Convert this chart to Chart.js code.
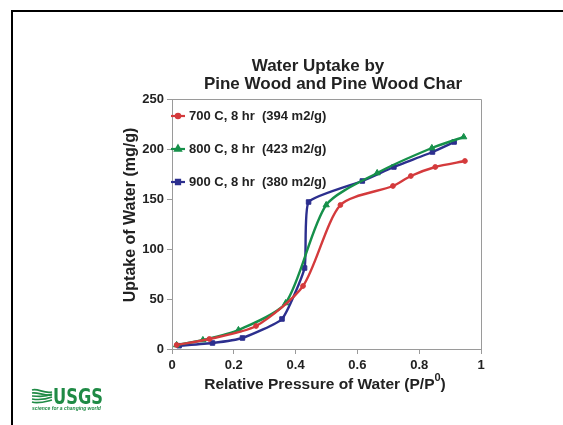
<!DOCTYPE html>
<html>
<head>
<meta charset="utf-8">
<script src="https://cdn.jsdelivr.net/npm/chart.js@4/dist/chart.umd.min.js"></script>
<style>
  html, body { margin: 0; padding: 0; background: #fff; }
  #wrap { position: relative; width: 563px; height: 425px; }
</style>
</head>
<body>
<div id="wrap"><canvas id="c" width="563" height="425"></canvas></div>
<script>
// ---- data ----
const titleLines = ["Water Uptake by", "Pine Wood and Pine Wood Char"];
const xAxisTitle = "Relative Pressure of Water (P/P";
const yAxisTitle = "Uptake of Water (mg/g)";
const xTicks = [0, 0.2, 0.4, 0.6, 0.8, 1];
const yTicks = [0, 50, 100, 150, 200, 250];

const s700Label = "700 C, 8 hr  (394 m2/g)";
const s700X = [0.015, 0.121, 0.272, 0.424, 0.545, 0.715, 0.773, 0.852, 0.948];
const s700Y = [4, 10, 23, 63, 144, 163, 173, 182, 188];

const s800Label = "800 C, 8 hr  (423 m2/g)";
const s800X = [0.015, 0.100, 0.215, 0.368, 0.499, 0.664, 0.841, 0.944];
const s800Y = [4, 9, 19, 46, 144, 176, 201, 212];

const s900Label = "900 C, 8 hr  (380 m2/g)";
const s900X = [0.023, 0.131, 0.228, 0.356, 0.429, 0.442, 0.616, 0.718, 0.843, 0.913];
const s900Y = [3.3, 6, 11, 30, 81, 147, 168, 182, 197, 207];

const pts = (xs, ys) => xs.map((x, i) => ({ x: x, y: ys[i] }));

const RED = '#d43a3c', GREEN = '#16904a', BLUE = '#2c2f8e';
const FONT = '"Liberation Sans", Arial, Helvetica, sans-serif';

const series = [
  { label: s700Label, data: pts(s700X, s700Y), color: RED, style: 'circle', r: 2.4, t: 0.25 },
  { label: s800Label, data: pts(s800X, s800Y), color: GREEN, style: 'triangle', r: 3.6, t: 0.25 },
  { label: s900Label, data: pts(s900X, s900Y), color: BLUE, style: 'rect', r: 3.2, t: 0.15 },
];

const decor = {
  id: 'decor',
  beforeDatasetsDraw(chart) {
    const ctx = chart.ctx, a = chart.chartArea;
    ctx.save();
    ctx.strokeStyle = '#9a9a9a';
    ctx.lineWidth = 1;
    ctx.beginPath();
    ctx.moveTo(a.left, a.top + 0.5);
    ctx.lineTo(a.right + 0.5, a.top + 0.5);
    ctx.lineTo(a.right + 0.5, a.bottom);
    ctx.stroke();
    ctx.restore();
  },
  afterDraw(chart) {
    const ctx = chart.ctx;
    ctx.save();
    // outer frame
    ctx.strokeStyle = '#000';
    ctx.lineWidth = 2;
    ctx.beginPath();
    ctx.moveTo(12, 425);
    ctx.lineTo(12, 11);
    ctx.lineTo(563, 11);
    ctx.stroke();

    // title
    ctx.fillStyle = '#222';
    ctx.font = 'bold 17px ' + FONT;
    ctx.textAlign = 'center';
    ctx.textBaseline = 'alphabetic';
    ctx.fillText(titleLines[0], 318, 71);
    ctx.fillText(titleLines[1], 333, 89);

    // y axis title
    ctx.save();
    ctx.translate(131, 215);
    ctx.rotate(-Math.PI / 2);
    ctx.font = 'bold 16px ' + FONT;
    ctx.textAlign = 'center';
    ctx.textBaseline = 'middle';
    ctx.fillText(yAxisTitle, 0, 0);
    ctx.restore();

    // x axis title with superscript
    const XF = 'bold 15.5px ' + FONT;
    ctx.font = XF;
    const w1 = ctx.measureText(xAxisTitle).width;
    ctx.font = 'bold 11px ' + FONT;
    const w2 = ctx.measureText('0').width;
    ctx.font = XF;
    const w3 = ctx.measureText(')').width;
    const total = w1 + w2 + w3;
    let x0 = 325 - total / 2;
    ctx.textAlign = 'left';
    ctx.fillText(xAxisTitle, x0, 389);
    ctx.font = 'bold 11px ' + FONT;
    ctx.fillText('0', x0 + w1, 381);
    ctx.font = XF;
    ctx.fillText(')', x0 + w1 + w2, 389);

    // legend
    const ly = [116, 149, 182];
    series.forEach((s, i) => {
      const y = ly[i];
      ctx.strokeStyle = s.color;
      ctx.fillStyle = s.color;
      ctx.lineWidth = 2.2;
      ctx.beginPath();
      ctx.moveTo(171, y);
      ctx.lineTo(185, y);
      ctx.stroke();
      Chart.helpers.drawPoint(ctx, { pointStyle: s.style, radius: s.r * 0.9, borderWidth: 1 }, 178, y);
      ctx.fillStyle = '#222';
      ctx.font = 'bold 13px ' + FONT;
      ctx.textBaseline = 'middle';
      ctx.fillText(s.label, 189, y);
    });

    // USGS logo
    const G = '#1f8a45';
    ctx.strokeStyle = G;
    ctx.fillStyle = G;
    ctx.lineWidth = 1.6;
    for (let k = 0; k < 5; k++) {
      const yy = 390 + k * 3;
      ctx.beginPath();
      ctx.moveTo(32, yy);
      ctx.bezierCurveTo(38, yy - 2 + k, 44, yy + 4 - k, 52, yy + (k < 2 ? 2 : -2));
      ctx.stroke();
    }
    ctx.font = 'bold 21px "Liberation Sans Narrow", "DejaVu Sans Condensed", ' + FONT;
    ctx.textBaseline = 'alphabetic';
    ctx.save();
    ctx.translate(53, 404);
    ctx.scale(0.86, 1.05);
    ctx.fillText('USGS', 0, 0);
    ctx.restore();
    ctx.font = 'italic bold 5px ' + FONT;
    ctx.fillText('science for a changing world', 32, 410);
    ctx.restore();
  }
};

new Chart(document.getElementById('c'), {
  type: 'scatter',
  data: {
    datasets: series.map(s => ({
      label: s.label,
      data: s.data,
      showLine: true,
      borderColor: s.color,
      backgroundColor: s.color,
      borderWidth: 2.4,
      pointStyle: s.style,
      pointRadius: s.r,
      pointBorderWidth: 1,
      tension: s.t,
      cubicInterpolationMode: 'default'
    }))
  },
  options: {
    responsive: false,
    animation: false,
    devicePixelRatio: 1,
    layout: { padding: { left: 0, top: 99, right: 82, bottom: 0 } },
    plugins: { legend: { display: false }, title: { display: false }, tooltip: { enabled: false } },
    scales: {
      x: {
        type: 'linear', min: 0, max: 1,
        afterBuildTicks: ax => { ax.ticks = xTicks.map(v => ({ value: v })); },
        afterFit: ax => { ax.height = 76; },
        border: { color: '#9a9a9a', width: 1 },
        grid: { drawOnChartArea: false, tickLength: 5, color: '#9a9a9a' },
        ticks: { color: '#222', font: { family: FONT, size: 13, weight: 'bold' }, padding: 4, maxRotation: 0,
                 callback: v => String(v) }
      },
      y: {
        type: 'linear', min: 0, max: 250,
        afterBuildTicks: ax => { ax.ticks = yTicks.map(v => ({ value: v })); },
        afterFit: ax => { ax.width = 172; },
        border: { color: '#9a9a9a', width: 1 },
        grid: { drawOnChartArea: false, tickLength: 5, color: '#9a9a9a' },
        ticks: { color: '#222', font: { family: FONT, size: 13, weight: 'bold' }, padding: 3 }
      }
    }
  },
  plugins: [decor]
});
</script>
</body>
</html>
